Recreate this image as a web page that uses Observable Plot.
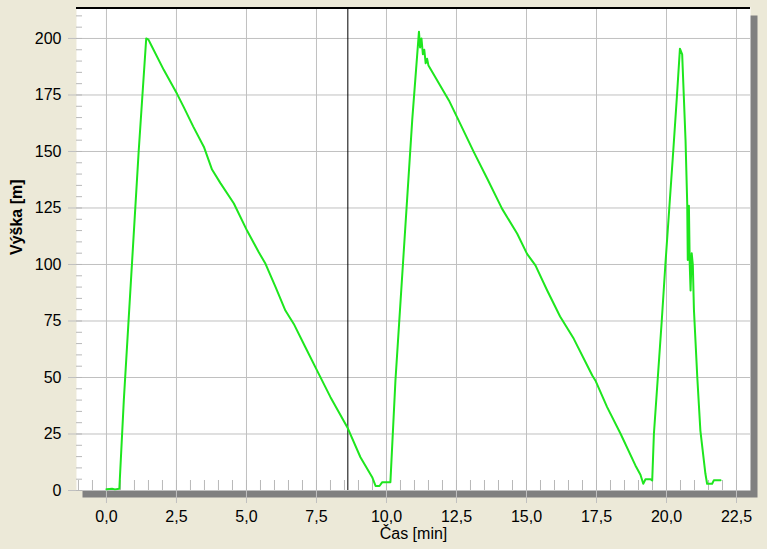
<!DOCTYPE html>
<html>
<head>
<meta charset="utf-8">
<script src="https://cdn.jsdelivr.net/npm/d3@7"></script>
<script src="https://cdn.jsdelivr.net/npm/@observablehq/plot@0.6"></script>
<style>
  html, body { margin: 0; padding: 0; background: #ECE9D8; }
  #chart svg { display: block; }
</style>
</head>
<body>
<div id="chart"></div>
<script>
// Data
const casMin = [0.0, 0.2, 0.3, 0.46, 0.62, 1.15, 1.42, 1.5, 1.6, 2.05, 2.52, 2.76, 3.1, 3.48, 3.77, 4.07, 4.55, 5.02, 5.44, 5.68, 6.04, 6.39, 6.69, 7.1, 7.46, 8.0, 8.6, 9.07, 9.49, 9.61, 9.75, 9.85, 10.14,
  10.32, 10.92, 11.16, 11.2, 11.25, 11.3, 11.35, 11.4, 11.45, 11.5,
  12.23, 12.52, 13.12, 13.6, 14.13, 14.67, 15.02, 15.32, 15.74, 16.2, 16.69, 17.35, 17.46, 17.88, 18.36, 18.89, 19.07, 19.17, 19.25, 19.43, 19.49,
  19.55, 19.69, 19.83, 19.96, 20.1, 20.24, 20.37, 20.48, 20.56, 20.62, 20.68, 20.74, 20.76, 20.8, 20.83, 20.86, 20.9, 20.94, 20.98, 21.0, 21.1, 21.21, 21.39, 21.45, 21.63, 21.69, 21.93];
const vyskaM = [0.6, 0.8, 0.5, 0.8, 40, 150, 200, 199.5, 197, 186, 175.5, 169.6, 161, 152, 142, 136, 127, 115, 105.4, 100.3, 90, 79.6, 73.7, 63.5, 54.6, 41.3, 28, 14.7, 5.9, 2, 2, 3.7, 3.7,
  48.7, 164, 203, 196, 200, 193, 195, 189, 191, 188,
  172.6, 165.2, 149.7, 137.9, 124.6, 113.6, 104.7, 99.6, 88.5, 77, 67.1, 50.9, 48.7, 36.9, 25.1, 11.1, 7, 3, 5, 5, 4.4,
  25, 50, 75, 100, 125, 150, 174, 195.5, 193, 174, 155, 127, 102, 126, 100, 88.5, 105, 100, 80, 75, 50, 26.5, 7.4, 3, 3, 4.5, 4.5];

const xTicks = [0, 2.5, 5, 7.5, 10, 12.5, 15, 17.5, 20, 22.5];
const yTicks = [0, 25, 50, 75, 100, 125, 150, 175, 200];
const xMinor = d3.range(-1, 23.01, 0.5);
const yMinor = d3.range(0, 211, 5);
const cursorX = [8.62];
const xDomain = [-1.07, 23.0];
const yDomain = [0, 213.7];
const xLabel = "Čas [min]";
const yLabel = "Výška [m]";

const data = casMin.map((t, i) => ({t, h: vyskaM[i]}));
const fmt = d => d.toFixed(1).replace(".", ",");

const W = 767, H = 549;
const mL = 76, mR = 17, mT = 7, mB = 59;
const plotW = W - mL - mR, plotH = H - mT - mB;

const chart = Plot.plot({
  width: W,
  height: H,
  marginLeft: mL,
  marginRight: mR,
  marginTop: mT,
  marginBottom: mB,
  style: {background: "#ECE9D8", fontFamily: "Liberation Sans, Arial, sans-serif", fontSize: "16px", color: "black"},
  x: {domain: xDomain, axis: null},
  y: {domain: yDomain, axis: null},
  marks: [
    Plot.frame({fill: "#808080", stroke: null, insetLeft: 6, insetTop: 8, insetRight: -7, insetBottom: -7}),
    Plot.frame({fill: "white", stroke: null}),
    Plot.ruleX(xTicks, {stroke: "#c0c0c0", strokeWidth: 1, insetBottom: -13}),
    Plot.ruleY(yTicks, {stroke: "#c0c0c0", strokeWidth: 1, insetLeft: -8}),
    Plot.ruleX(xMinor, {stroke: "#b8b8b8", strokeWidth: 1, insetTop: plotH - 10}),
    Plot.ruleY(yMinor, {stroke: "#b8b8b8", strokeWidth: 1, insetRight: plotW - 6}),
    Plot.ruleY([yDomain[1]], {stroke: "black", strokeWidth: 2, dy: 0.5}),
    Plot.ruleX(cursorX, {stroke: "black", strokeWidth: 1}),
    Plot.line(data, {x: "t", y: "h", stroke: "#1ee61e", strokeWidth: 2}),
    Plot.axisX(xTicks, {tickSize: 0, tickPadding: 20, tickFormat: fmt, label: null, fontSize: 16}),
    Plot.axisY(yTicks, {tickSize: 0, tickPadding: 15, label: null, fontSize: 16}),
    Plot.text([xLabel], {frameAnchor: "bottom", dy: 48.5, fontSize: 16, fill: "black"}),
    Plot.text([yLabel], {frameAnchor: "left", dx: -60, dy: 6, rotate: -90, fontSize: 16, fontWeight: "bold", fill: "black"})
  ]
});
document.getElementById("chart").appendChild(chart);
</script>
</body>
</html>
